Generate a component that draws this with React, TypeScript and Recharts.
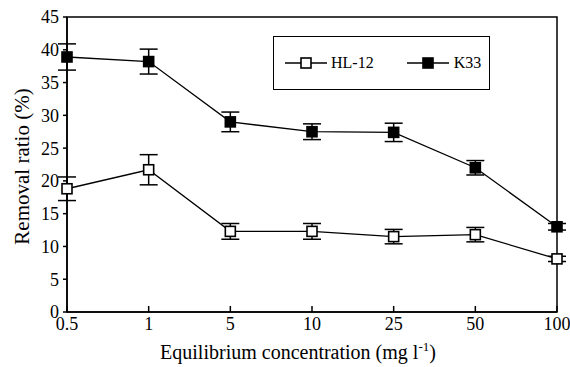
import { LineChart, Line, XAxis, YAxis, ErrorBar, Legend, ReferenceArea } from 'recharts'

const concentrations = ['0.5', '1', '5', '10', '25', '50', '100']
const hl12 = [18.8, 21.7, 12.3, 12.3, 11.5, 11.8, 8.1]
const hl12Err = [1.8, 2.3, 1.2, 1.2, 1.1, 1.1, 0.4]
const k33 = [38.9, 38.2, 29.0, 27.5, 27.4, 22.0, 13.0]
const k33Err = [2.0, 1.9, 1.5, 1.2, 1.4, 1.1, 0.5]
const yTicks = [0, 5, 10, 15, 20, 25, 30, 35, 40, 45]

const data = concentrations.map((c, i) => ({
  conc: c,
  hl12: hl12[i],
  hl12Err: hl12Err[i],
  k33: k33[i],
  k33Err: k33Err[i],
}))

const FONT = "'Liberation Serif', 'Times New Roman', serif"

function squareDot(fill: string) {
  return (props: any) => {
    const { cx, cy, index } = props
    return (
      <rect
        key={`sq-${index}`}
        x={cx - 5}
        y={cy - 5}
        width={10}
        height={10}
        fill={fill}
        stroke="#000"
        strokeWidth={1.6}
      />
    )
  }
}

function LegendSymbol({ fill }: { fill: string }) {
  return (
    <svg width={42} height={12} style={{ display: 'block' }}>
      <line x1={0} y1={6} x2={42} y2={6} stroke="#000" strokeWidth={1.5} />
      <rect x={16} y={1} width={10} height={10} fill={fill} stroke="#000" strokeWidth={1.6} />
    </svg>
  )
}

function renderLegend() {
  return (
    <div
      style={{
        width: 217,
        height: 54,
        boxSizing: 'border-box',
        border: '1.5px solid #000',
        display: 'flex',
        alignItems: 'center',
        fontFamily: FONT,
        fontSize: 16,
        color: '#000',
      }}
    >
      <div style={{ display: 'flex', alignItems: 'center', marginLeft: 11 }}>
        <LegendSymbol fill="#fff" />
        <span style={{ marginLeft: 4 }}>HL-12</span>
      </div>
      <div style={{ display: 'flex', alignItems: 'center', marginLeft: 33 }}>
        <LegendSymbol fill="#000" />
        <span style={{ marginLeft: 5 }}>K33</span>
      </div>
    </div>
  )
}

function YTitle(props: any) {
  const { x, y, height } = props.viewBox
  const cx = x + 22
  const cy = y + height / 2 + 2
  return (
    <text
      x={cx}
      y={cy}
      transform={`rotate(-90 ${cx} ${cy})`}
      textAnchor="middle"
      dominantBaseline="central"
      fontFamily={FONT}
      fontSize={21}
      fill="#000"
    >
      Removal ratio (%)
    </text>
  )
}

function XTitle(props: any) {
  const { x, y, width } = props.viewBox
  return (
    <text
      x={x + width / 2 - 14}
      y={y + 47}
      textAnchor="middle"
      fontFamily={FONT}
      fontSize={20}
      fill="#000"
    >
      <tspan>Equilibrium concentration (mg l</tspan>
      <tspan dy={-8} fontSize={13}>-1</tspan>
      <tspan dy={8}>)</tspan>
    </text>
  )
}

export default function App() {
  return (
    <div style={{ position: 'relative', width: 570, height: 367, background: '#fff' }}>
      <style>{'body{margin:0}'}</style>
      <LineChart
        width={570}
        height={367}
        data={data}
        margin={{ top: 17, right: 13, left: 0, bottom: 0 }}
      >
        <XAxis
          dataKey="conc"
          height={55}
          axisLine={{ stroke: '#000', strokeWidth: 1.5 }}
          tickLine={{ stroke: '#000', strokeWidth: 1.5 }}
          tickSize={-6}
          tickMargin={11}
          tick={{ fill: '#000', fontSize: 18, fontFamily: FONT }}
          interval={0}
          label={{ content: XTitle }}
        />
        <YAxis
          width={67}
          domain={[0, 45]}
          ticks={yTicks}
          axisLine={{ stroke: '#000', strokeWidth: 1.5 }}
          tickLine={{ stroke: '#000', strokeWidth: 1.5 }}
          tickSize={4}
          tickMargin={4}
          tick={{ fill: '#000', fontSize: 18, fontFamily: FONT }}
          interval={0}
          label={{ content: YTitle }}
        />
        <ReferenceArea
          x1="0.5"
          x2="100"
          y1={0}
          y2={45}
          fill="none"
          stroke="#000"
          strokeWidth={1.5}
        />
        <Legend
          layout="vertical"
          align="center"
          verticalAlign="middle"
          content={renderLegend}
          wrapperStyle={{ left: 273, top: 36, width: 217, height: 54 }}
        />
        <Line
          dataKey="hl12"
          name="HL-12"
          stroke="#000"
          strokeWidth={1.3}
          dot={squareDot('#fff')}
          activeDot={false}
          isAnimationActive={false}
        >
          <ErrorBar dataKey="hl12Err" width={9} stroke="#000" strokeWidth={1.5} direction="y" />
        </Line>
        <Line
          dataKey="k33"
          name="K33"
          stroke="#000"
          strokeWidth={1.3}
          dot={squareDot('#000')}
          activeDot={false}
          isAnimationActive={false}
        >
          <ErrorBar dataKey="k33Err" width={9} stroke="#000" strokeWidth={1.5} direction="y" />
        </Line>
      </LineChart>
    </div>
  )
}
